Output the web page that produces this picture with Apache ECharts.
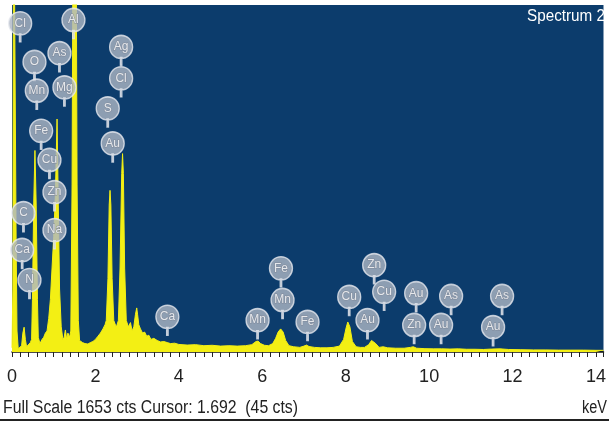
<!DOCTYPE html>
<html>
<head>
<meta charset="utf-8">
<script src="https://cdn.jsdelivr.net/npm/echarts@6/dist/echarts.min.js"></script>
<style>html,body{margin:0;padding:0;background:#fff;}#c{width:609px;height:421px;}</style>
</head>
<body>
<div id="c"></div>
<script>
// Spectrum (keV, counts); full scale 1653 cts
const energy = [0.00,0.02,0.04,0.08,0.10,0.12,0.15,0.19,0.23,0.26,0.29,0.32,0.35,0.39,0.44,0.47,0.49,0.52,0.55,0.58,0.61,0.63,0.67,0.72,0.76,0.80,0.84,0.88,0.92,0.96,1.00,1.04,1.08,1.11,1.14,1.18,1.22,1.25,1.28,1.31,1.34,1.38,1.41,1.44,1.47,1.53,1.56,1.59,1.62,1.69,1.75,1.82,1.88,1.94,2.00,2.06,2.12,2.18,2.23,2.26,2.30,2.33,2.35,2.37,2.40,2.44,2.50,2.55,2.59,2.63,2.65,2.67,2.70,2.74,2.79,2.84,2.88,2.92,2.96,2.99,3.01,3.04,3.08,3.13,3.18,3.23,3.28,3.33,3.40,3.48,3.56,3.64,3.72,3.80,3.90,4.00,4.2,4.4,4.6,4.8,5.0,5.2,5.4,5.6,5.75,5.85,5.90,5.96,6.05,6.15,6.25,6.32,6.38,6.44,6.50,6.56,6.64,6.75,6.90,7.00,7.06,7.12,7.25,7.4,7.55,7.7,7.85,7.95,8.01,8.05,8.10,8.16,8.25,8.35,8.45,8.55,8.62,8.66,8.72,8.80,8.9,9.0,9.2,9.4,9.55,9.62,9.7,9.9,10.1,10.3,10.5,10.7,10.9,11.1,11.3,11.5,11.7,11.9,12.2,12.5,12.8,13.1,13.4,13.7,14.0,14.18];
const counts = [20,300,2400,2400,500,100,15,12,30,90,118,60,25,30,45,60,250,700,960,700,250,70,40,60,70,90,100,160,250,400,550,750,1110,700,300,120,60,70,105,60,90,70,100,800,2400,2400,800,150,55,45,40,38,45,50,60,75,90,110,130,150,350,700,770,700,350,150,118,150,400,850,945,850,400,150,120,140,100,120,180,210,180,130,110,90,95,75,80,60,65,55,48,50,45,40,42,36,33,35,30,32,28,30,28,30,35,50,52,40,32,30,40,65,95,110,95,55,30,25,22,28,33,26,22,20,20,22,28,60,115,143,120,50,25,22,22,35,55,57,40,22,25,20,18,18,22,25,18,16,15,15,14,15,13,13,12,14,15,12,11,10,10,9,9,9,8,8];

// Element markers: name, energy (keV), height (counts)
const labelNames  = ['Cl','Al','O','As','Mn','Mg','Fe','Cu','Zn','Ag','Cl','S','Au','Na','C','Ca','N','Ca','Fe','Mn','Mn','Fe','Cu','Zn','Cu','Au','Au','Zn','As','Au','As','Au'];
const labelEnergy = [0.196,1.473,0.539,1.138,0.594,1.257,0.699,0.898,1.018,2.616,2.616,2.295,2.414,1.018,0.275,0.244,0.419,3.725,6.448,6.486,5.887,7.085,8.084,8.683,8.922,8.522,9.689,9.641,10.527,10.287,11.749,11.533];
const labelLevel  = [1566,1582,1382,1424,1245,1261,1054,915,762,1454,1304,1161,994,581,662,486,343,168,399,248,152,144,263,414,287,152,280,129,267,129,267,119];

const xTicks = {min:0, max:14.18, interval:2};
const fullScale = 1653;
const footerText = 'Full Scale 1653 cts Cursor: 1.692  (45 cts)';
const titleText = 'Spectrum 2';
const unitText = 'keV';

const font = '"Liberation Sans", Arial, sans-serif';
function fitScale(text, px, target){
  const ctx = document.createElement('canvas').getContext('2d');
  ctx.font = px + 'px ' + font;
  return target / ctx.measureText(text).width;
}

const chart = echarts.init(document.getElementById('c'), null, {renderer:'canvas'});
const pin = 'path://M0,12 A12,12 0 1,1 24,12 A12,12 0 1,1 0,12 Z M11.2,23 L12.8,23 L12.8,31 L11.2,31 Z';

chart.setOption({
  animation:false,
  backgroundColor:'#ffffff',
  grid:{left:12, right:5, top:5, bottom:69, show:true, backgroundColor:'#0c3c6c', borderWidth:0},
  xAxis:{
    type:'value', min:xTicks.min, max:xTicks.max, interval:xTicks.interval,
    axisLine:{show:true, lineStyle:{color:'#111', width:1.5}},
    axisTick:{show:true, length:5, lineStyle:{color:'#222', width:1}},
    minorTick:{show:true, splitNumber:10, length:5, lineStyle:{color:'#222', width:1}},
    splitLine:{show:false},
    axisLabel:{showMaxLabel:false, margin:16, fontSize:18, color:'#222', fontFamily:font}
  },
  yAxis:{type:'value', min:0, max:fullScale, show:false, splitLine:{show:false}},
  series:[
    {
      type:'line', z:2, data: energy.map((e,i)=>[e,counts[i]]), symbol:'none', clip:true,
      lineStyle:{color:'#f3ef14', width:1}, areaStyle:{color:'#f3ef14', opacity:1}
    },
    {
      type:'scatter', z:10, symbol:pin, symbolSize:[23,30], symbolOffset:[0,3.5],
      data: labelNames.map((n,i)=>({name:n, value:[labelEnergy[i], labelLevel[i]]})),
      itemStyle:{color:'#aeb6c4', borderColor:'#e6e9ef', borderWidth:1.5},
      label:{show:true, position:'inside', formatter:'{b}', color:'#ffffff', fontSize:12, fontFamily:font,
             textBorderColor:'#7d8696', textBorderWidth:1, overflow:'none', width:40, offset:[0,-3.5]}
    }
  ],
  graphic:[
    {type:'text', left:527, top:9, scaleX:fitScale(titleText,16,78), style:{text:titleText, fill:'#ffffff', font:'16px '+font}},
    {type:'text', left:3, top:399, scaleX:fitScale(footerText,18,295), style:{text:footerText, fill:'#222', font:'18px '+font}},
    {type:'text', left:582, top:399, scaleX:fitScale(unitText,18,25), style:{text:unitText, fill:'#222', font:'18px '+font}},
    {type:'rect', left:0, top:419, shape:{width:609, height:2}, style:{fill:'#222'}}
  ]
});
</script>
</body>
</html>
